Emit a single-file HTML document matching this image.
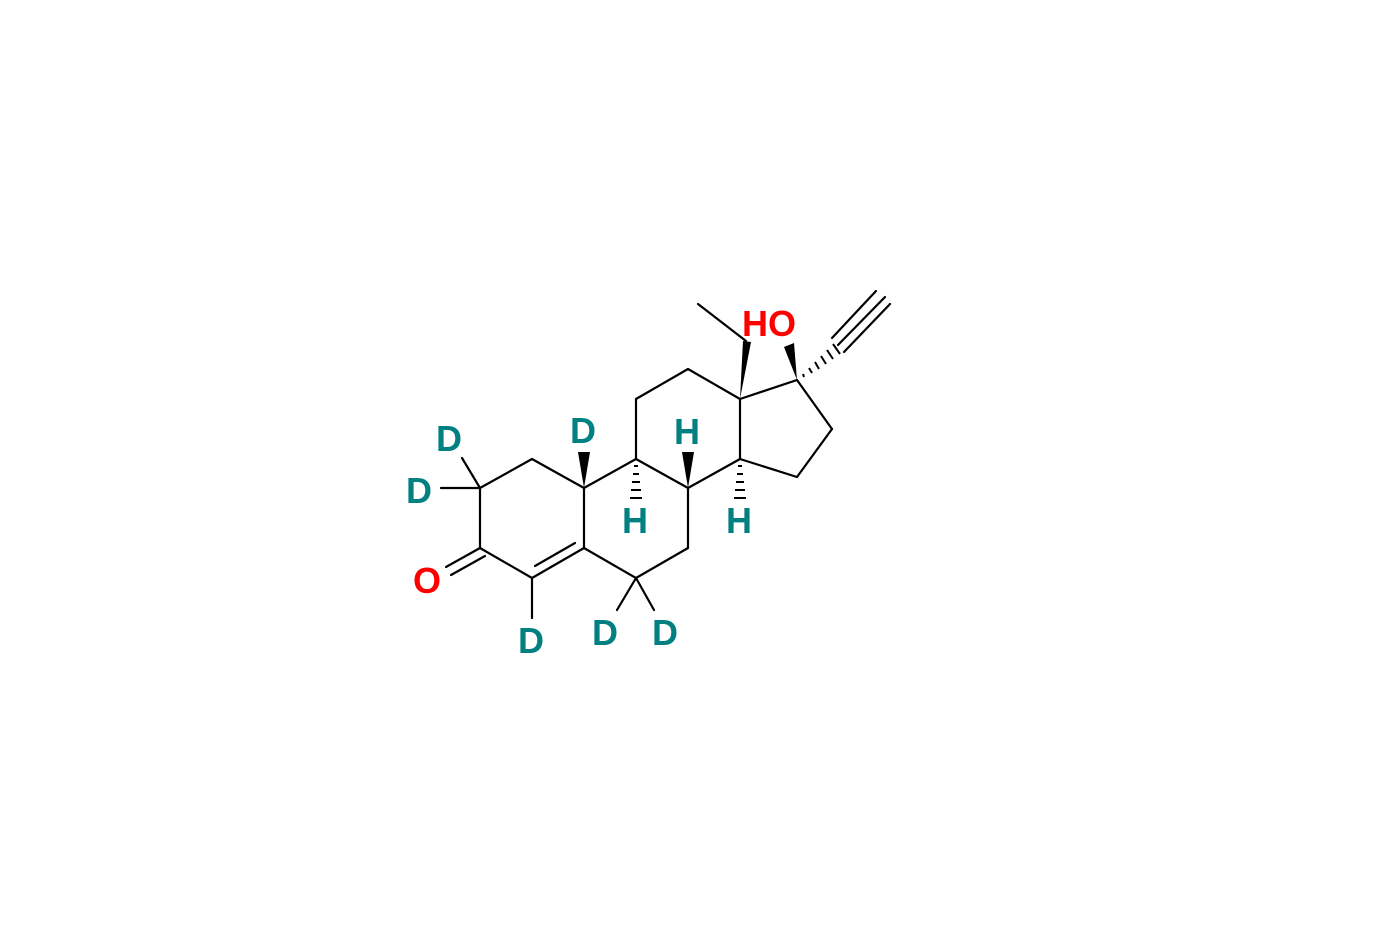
<!DOCTYPE html>
<html><head><style>body{margin:0;background:#fff}svg{display:block}</style></head>
<body>
<svg width="1380" height="925" viewBox="0 0 1380 925" xmlns="http://www.w3.org/2000/svg">
<g stroke="#000" stroke-width="2.2" fill="none" stroke-linecap="round">
<!-- ring A -->
<line x1="532" y1="459" x2="480" y2="488"/>
<line x1="480" y1="488" x2="480" y2="548"/>
<line x1="480" y1="548" x2="532" y2="578"/>
<line x1="532" y1="578" x2="584" y2="548"/>
<line x1="535" y1="566" x2="575" y2="543"/>
<line x1="584" y1="548" x2="584" y2="488"/>
<line x1="584" y1="488" x2="532" y2="459"/>
<!-- ring B -->
<line x1="584" y1="488" x2="636" y2="459"/>
<line x1="636" y1="459" x2="688" y2="488"/>
<line x1="688" y1="488" x2="688" y2="548"/>
<line x1="688" y1="548" x2="636" y2="578"/>
<line x1="636" y1="578" x2="584" y2="548"/>
<!-- ring C -->
<line x1="636" y1="459" x2="636" y2="399"/>
<line x1="636" y1="399" x2="688" y2="369"/>
<line x1="688" y1="369" x2="740" y2="399"/>
<line x1="740" y1="399" x2="740" y2="459"/>
<line x1="740" y1="459" x2="688" y2="488"/>
<!-- ring D -->
<line x1="740" y1="399" x2="797" y2="380"/>
<line x1="797" y1="380" x2="832" y2="429"/>
<line x1="832" y1="429" x2="797" y2="477"/>
<line x1="797" y1="477" x2="740" y2="459"/>
<!-- ethyl -->
<line x1="746" y1="341" x2="698" y2="304"/>
<!-- C=O -->
<line x1="480" y1="548" x2="446" y2="567"/>
<line x1="485" y1="556" x2="451" y2="575"/>
<!-- deuteriums -->
<line x1="480" y1="488" x2="462" y2="458"/>
<line x1="480" y1="488" x2="441" y2="488"/>
<line x1="532" y1="578" x2="532" y2="618"/>
<line x1="636" y1="578" x2="617" y2="610"/>
<line x1="636" y1="578" x2="654" y2="610"/>
<!-- triple -->
<line x1="838" y1="345" x2="885" y2="297"/>
<line x1="832" y1="338" x2="876" y2="291"/>
<line x1="844" y1="352" x2="890" y2="304"/>
</g>
<g fill="#000">
<polygon points="740,399 743,341 751,342"/>
<polygon points="797,380 784,347 794,343"/>
<polygon points="584,488 578,452 590,452"/>
<polygon points="688,488 682,452 694,452"/>
</g>
<g stroke="#000" stroke-width="2">
<line x1="634" y1="466" x2="638" y2="466"/>
<line x1="633" y1="474" x2="639" y2="474"/>
<line x1="632" y1="482" x2="640" y2="482"/>
<line x1="631" y1="490" x2="641" y2="490"/>
<line x1="630" y1="498" x2="642" y2="498"/>
<line x1="738" y1="466" x2="742" y2="466"/>
<line x1="737" y1="474" x2="743" y2="474"/>
<line x1="736" y1="482" x2="744" y2="482"/>
<line x1="735" y1="490" x2="745" y2="490"/>
<line x1="734" y1="498" x2="746" y2="498"/>
<line x1="803" y1="374" x2="804" y2="377"/>
<line x1="809" y1="368" x2="812" y2="373"/>
<line x1="815" y1="362" x2="819" y2="369"/>
<line x1="821" y1="356" x2="826" y2="364"/>
<line x1="827" y1="350" x2="833" y2="359"/>
<line x1="833" y1="344" x2="840" y2="354"/>
</g>
<g font-family="Liberation Sans, sans-serif" font-weight="bold" font-size="36" text-anchor="middle">
<text x="769" y="336" fill="#ff0000">HO</text>
<text x="427" y="593" fill="#ff0000">O</text>
<g fill="#008080">
<text x="449" y="451">D</text>
<text x="419" y="503">D</text>
<text x="583" y="443">D</text>
<text x="687" y="444">H</text>
<text x="635" y="533">H</text>
<text x="739" y="533">H</text>
<text x="531" y="653">D</text>
<text x="605" y="645">D</text>
<text x="665" y="645">D</text>
</g>
</g>
</svg>
</body></html>
